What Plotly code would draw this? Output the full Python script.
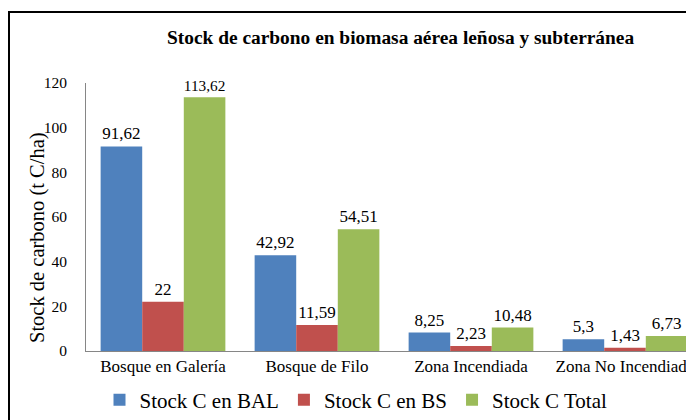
import plotly.graph_objects as go

categories = ["Bosque en Galería", "Bosque de Filo", "Zona Incendiada", "Zona No Incendiada"]
stock_bal = [91.62, 42.92, 8.25, 5.3]
stock_bs = [22, 11.59, 2.23, 1.43]
stock_total = [113.62, 54.51, 10.48, 6.73]
series_names = ["Stock C en BAL", "Stock C en BS", "Stock C Total"]
colors = ["#4F81BD", "#C0504D", "#9BBB59"]

def fmt(v):
    s = ("%.2f" % v).rstrip("0").rstrip(".")
    return s.replace(".", ",")

FONT = "'Liberation Serif', 'Times New Roman', 'DejaVu Serif', serif"
fig = go.Figure()
for name, vals, col in zip(series_names, [stock_bal, stock_bs, stock_total], colors):
    fig.add_trace(go.Bar(
        x=categories, y=vals, name=name, marker=dict(color=col, line=dict(width=0)),
        text=[fmt(v) for v in vals], textposition="outside", cliponaxis=False,
        textfont=dict(family=FONT, size=17, color="black"),
    ))

OFF = 8  # page body margin
W, H = 694, 420
L = 86 - OFF
T = 83 - OFF
B = H - (351 - OFF)
pw = W - L
ph = H - T - B

def px(x):
    return (x - OFF - L) / pw

def py(y):
    return (H - B - (y - OFF)) / ph

fig.update_layout(
    width=W, height=H, autosize=False,
    margin=dict(l=L, r=0, t=T, b=B, pad=0),
    paper_bgcolor="white", plot_bgcolor="white",
    barmode="group", bargap=0.19, bargroupgap=0,
    font=dict(family=FONT, color="black"),
    showlegend=True,
    legend=dict(orientation="h", x=px(356), xanchor="center", y=py(400), yanchor="middle",
                font=dict(family=FONT, size=21, color="black"), itemwidth=30,
                traceorder="normal", bgcolor="rgba(0,0,0,0)"),
    xaxis=dict(range=[-0.5, 3.5], showline=True, linecolor="#868686", linewidth=1,
               ticks="", tickfont=dict(family=FONT, size=17, color="black"), fixedrange=True),
    yaxis=dict(range=[0, 120], dtick=20, showgrid=False, zeroline=False, showline=True,
               linecolor="#868686", linewidth=1, ticks="", ticklabelstandoff=15,
               tickfont=dict(family=FONT, size=15.5, color="black")),
    annotations=[
        dict(text="<b>Stock de carbono en biomasa aérea leñosa y subterránea</b>", xref="paper", yref="paper",
             x=px(400), y=py(37), xanchor="center", yanchor="middle", showarrow=False,
             font=dict(family=FONT, size=19.4, color="black")),
        dict(text="Stock de carbono (t C/ha)", xref="paper", yref="paper", textangle=-90,
             x=px(37), y=py(238), xanchor="center", yanchor="middle", showarrow=False,
             font=dict(family=FONT, size=20.5, color="black")),
    ],
    shapes=[dict(type="rect", xref="paper", yref="paper", x0=px(9), x1=px(730), y0=py(450), y1=py(12),
                 line=dict(color="black", width=2), fillcolor="rgba(0,0,0,0)", layer="above")],
)
fig.write_html("out.html")
